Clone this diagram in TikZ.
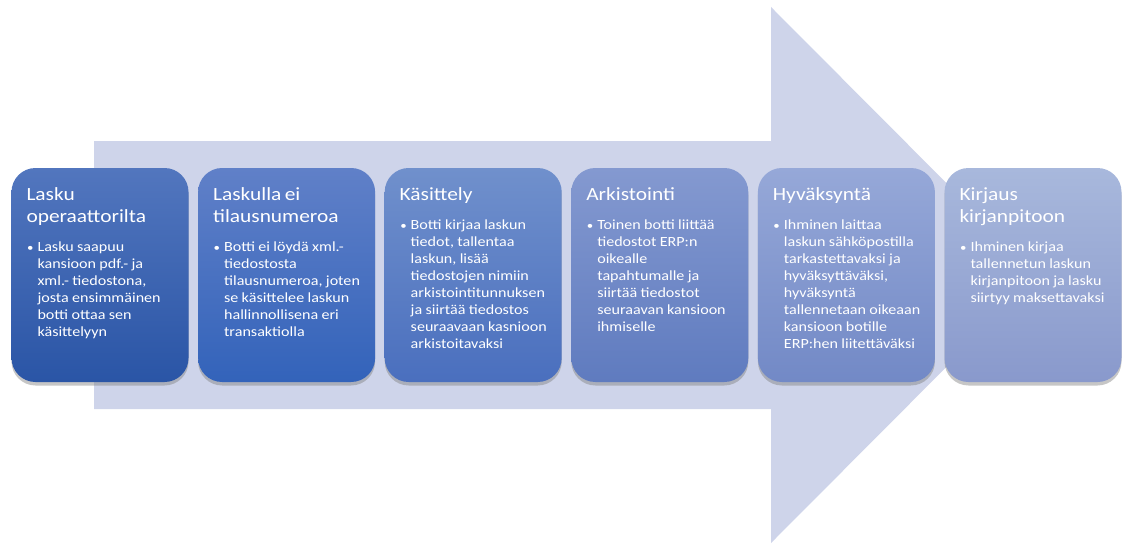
\documentclass[tikz,border=0pt]{standalone}
\usepackage{fontspec}
\setmainfont[FakeStretch=1.15]{Carlito}
\usetikzlibrary{positioning,shadows}

\setlength{\parindent}{0pt}
\setlength{\parskip}{0pt}

% colours of the flow arrow and of the six steps
\definecolor{flowfill}{RGB}{206,212,234}
\definecolor{topa}{RGB}{82,118,190}  \definecolor{bota}{RGB}{42,85,166}
\definecolor{topb}{RGB}{96,128,200}  \definecolor{botb}{RGB}{51,99,186}
\definecolor{topc}{RGB}{112,144,204} \definecolor{botc}{RGB}{74,111,190}
\definecolor{topd}{RGB}{132,153,208} \definecolor{botd}{RGB}{95,123,191}
\definecolor{tope}{RGB}{150,168,216} \definecolor{bote}{RGB}{114,137,198}
\definecolor{topf}{RGB}{168,184,220} \definecolor{botf}{RGB}{137,153,204}

\newcommand{\steptitle}[1]{{\fontsize{18.6}{22}\selectfont\strut #1\par}}
\newcommand{\stepbody}[1]{\vskip 11.5pt{\fontsize{14}{17}\selectfont\leftskip=11pt\noindent\llap{\scalebox{0.8}{\textbullet}\hspace{4pt}}#1\par}}

\begin{document}
\begin{tikzpicture}[x=1pt,y=-1pt]
\tikzstyle{flow}=[fill=flowfill, draw=none]
\tikzstyle{stepbox}=[rectangle, rounded corners=24pt, minimum width=177pt, minimum height=214pt, inner sep=0pt,
  drop shadow={opacity=0.45, shadow xshift=0pt, shadow yshift=-3.5pt}]
\tikzstyle{steptext}=[text=white, text width=160pt, align=left, inner sep=0pt]
\useasboundingbox (0,0) rectangle (1126,543);

	% big arrow behind the steps
	\fill[flow] (94,141) -- (771,141) -- (771,7) -- (1038,275) -- (771,543) -- (771,409) -- (94,409) -- cycle;

	\node[stepbox, top color=topa, bottom color=bota] (b1) at (100,275) {};
	\node[stepbox, top color=topb, bottom color=botb] (b2) at (286.6,275) {};
	\node[stepbox, top color=topc, bottom color=botc] (b3) at (473.2,275) {};
	\node[stepbox, top color=topd, bottom color=botd] (b4) at (659.8,275) {};
	\node[stepbox, top color=tope, bottom color=bote] (b5) at (846.4,275) {};
	\node[stepbox, top color=topf, bottom color=botf] (b6) at (1033,275) {};

	\node[steptext, below right=17.3pt and 15pt of b1.north west] (t1) {%
		\steptitle{Lasku\\operaattorilta}%
		\stepbody{Lasku saapuu\\kansioon pdf.- ja\\xml.- tiedostona,\\josta ensimmäinen\\botti ottaa sen\\käsittelyyn}};
	\node[steptext, below right=17.3pt and 15pt of b2.north west] (t2) {%
		\steptitle{Laskulla ei\\tilausnumeroa}%
		\stepbody{Botti ei löydä xml.-\\tiedostosta\\tilausnumeroa, joten\\se käsittelee laskun\\hallinnollisena eri\\transaktiolla}};
	\node[steptext, below right=17.3pt and 15pt of b3.north west] (t3) {%
		\steptitle{Käsittely}%
		\stepbody{Botti kirjaa laskun\\tiedot, tallentaa\\laskun, lisää\\tiedostojen nimiin\\arkistointitunnuksen\\ja siirtää tiedostos\\seuraavaan kasnioon\\arkistoitavaksi}};
	\node[steptext, below right=17.3pt and 15pt of b4.north west] (t4) {%
		\steptitle{Arkistointi}%
		\stepbody{Toinen botti liittää\\tiedostot ERP:n\\oikealle\\tapahtumalle ja\\siirtää tiedostot\\seuraavan kansioon\\ihmiselle}};
	\node[steptext, below right=17.3pt and 15pt of b5.north west] (t5) {%
		\steptitle{Hyväksyntä}%
		\stepbody{Ihminen laittaa\\laskun sähköpostilla\\tarkastettavaksi ja\\hyväksyttäväksi,\\hyväksyntä\\tallennetaan oikeaan\\kansioon botille\\ERP:hen liitettäväksi}};
	\node[steptext, below right=17.3pt and 15pt of b6.north west] (t6) {%
		\steptitle{Kirjaus\\kirjanpitoon}%
		\stepbody{Ihminen kirjaa\\tallennetun laskun\\kirjanpitoon ja lasku\\siirtyy maksettavaksi}};

\end{tikzpicture}
\end{document}
